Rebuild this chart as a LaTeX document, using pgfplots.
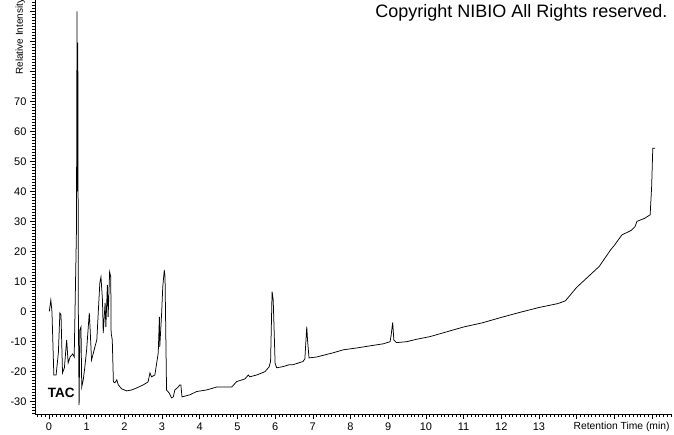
\documentclass[border=0pt]{standalone}
\usepackage{pgfplots}
\pgfplotsset{compat=1.18}
\usepackage{fontspec}
\setmainfont{Liberation Sans}

\begin{document}
\begin{tikzpicture}
\begin{axis}[
    scale only axis,
    width=637pt, height=414pt,
    xmin=-0.37, xmax=16.53,
    ymin=-34.2, ymax=103.8,
    axis x line=bottom, axis y line=left,
    axis line style={-, line width=0.6pt},
    tick align=outside,
    tick style={black, line width=0.5pt},
    major tick length=5pt, minor tick length=3pt,
    xtick={0,1,2,3,4,5,6,7,8,9,10,11,12,13,14,15,16},
    xticklabels={0,1,2,3,4,5,6,7,8,9,10,11,12,13,{},{},{}},
    minor xtick={-0.3,-0.2,...,16.5},
    ytick={-30,-20,-10,0,10,20,30,40,50,60,70,80,90,100},
    yticklabels={-30,-20,-10,0,10,20,30,40,50,60,70,{},{},{}},
    minor ytick={-34,-33,...,103},
    tick label style={font=\fontsize{11}{13}\selectfont},
    clip=false,
]
% TAC trace
\addplot[black, line width=0.75pt] coordinates {
(0.01,0)(0.05,3.8)(0.08,-0.1)(0.13,-21.2)(0.19,-21.2)(0.25,-13.8)(0.29,-0.5)(0.32,-1.2)
(0.36,-20.5)(0.41,-18.8)(0.47,-9.5)(0.51,-17.2)(0.56,-15.2)(0.63,-14.2)(0.67,-15.2)
(0.73,27.2)(0.745,100)(0.752,40)(0.758,89.5)(0.766,89.5)(0.78,0)(0.80,-31.2)
(0.82,-6.2)(0.85,-5.2)(0.87,-25.2)(0.91,-22.8)(0.95,-18.8)(1.00,-12.8)(1.07,-0.5)
(1.09,-5.2)(1.13,-16.2)(1.18,-13.8)(1.22,-11.8)(1.27,-9.5)(1.35,9.5)(1.38,11.5)
(1.42,3.8)(1.44,-7.2)(1.49,2.8)(1.51,-5.2)(1.55,8.8)(1.57,-1.8)(1.61,13.2)(1.64,11.5)
(1.65,-7.2)(1.68,-9.5)(1.71,-23.5)(1.75,-23.8)(1.80,-22.8)(1.84,-24.5)(1.93,-25.8)
(2.06,-26.5)(2.19,-26.2)(2.33,-25.5)(2.50,-24.5)(2.63,-23.5)(2.68,-20.5)(2.72,-21.8)
(2.81,-21.2)(2.90,-13.8)(2.93,-1.8)(2.94,-11.8)(2.99,-0.5)(3.02,8.2)(3.06,13.8)
(3.08,11.5)(3.12,-26.2)(3.19,-27.2)(3.25,-28.8)(3.30,-28.5)(3.34,-26.2)(3.43,-25.2)
(3.47,-24.5)(3.50,-24.5)(3.53,-28.5)(3.74,-27.8)(3.92,-26.7)(4.18,-26.2)(4.45,-25.2)
(4.85,-25.2)(4.98,-23.4)(5.20,-22.5)(5.29,-21.2)(5.33,-21.8)(5.51,-21.2)(5.73,-20.1)
(5.84,-18.5)(5.88,-16.7)(5.92,6.6)(5.95,3.8)(6.00,-17.2)(6.04,-18.8)(6.21,-18.4)
(6.37,-17.8)(6.47,-17.8)(6.74,-16.7)(6.79,-15.8)(6.84,-5.1)(6.86,-9.5)(6.90,-15.5)
(7.10,-15.2)(7.54,-13.8)(7.81,-12.8)(8.16,-12.2)(8.51,-11.5)(8.87,-10.8)(9.05,-10.1)
(9.08,-7.8)(9.12,-3.7)(9.15,-9.5)(9.22,-10.4)(9.49,-10.1)(9.75,-9.3)(10.11,-8.4)
(10.5,-7.0)(11.0,-5.2)(11.5,-3.8)(12.0,-2.0)(12.5,-0.3)(13.0,1.3)(13.5,2.6)(13.7,3.5)
(14.0,8.0)(14.3,11.5)(14.6,15.0)(14.9,20.5)(15.0,22.0)(15.2,25.5)(15.45,27.0)
(15.55,28.3)(15.6,30.0)(15.8,31.0)(15.95,32.2)(15.99,41.6)(16.02,54.4)(16.08,54.4)
};
\node[font=\fontsize{13.5}{15}\selectfont\bfseries, anchor=base west] at (axis cs:-0.12,-28.8) {TAC};
\node[font=\fontsize{10.3}{12}\selectfont, anchor=base east] at (rel axis cs:1,0) [xshift=1pt, yshift=-15pt] {Retention Time (min)};
\node[font=\fontsize{10}{12}\selectfont, rotate=90, anchor=base east] at (rel axis cs:0,1) [xshift=5pt, yshift=12pt] {Relative Intensity};
\node[font=\fontsize{18}{20}\selectfont, anchor=base east] at (rel axis cs:1,1) [xshift=-1pt, yshift=-18pt] {Copyright NIBIO All Rights reserved.};
\end{axis}
\pgfresetboundingbox
\path[use as bounding box] (-35pt,-20pt) rectangle (639pt,414pt);
\end{tikzpicture}
\end{document}
